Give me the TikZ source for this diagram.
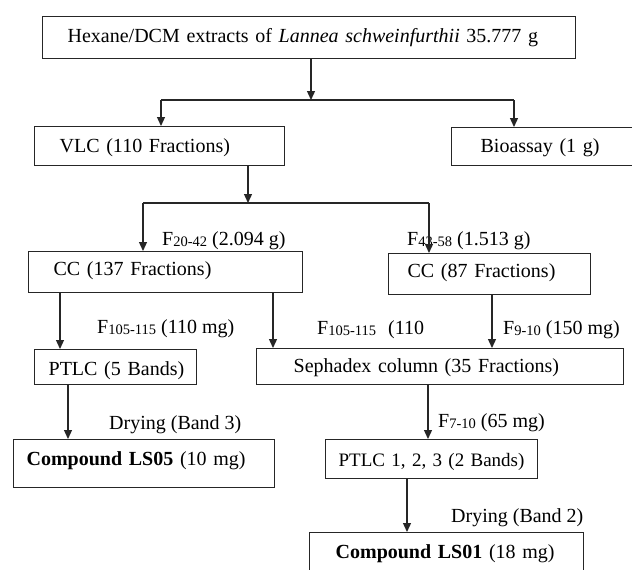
\documentclass[tikz,border=0pt]{standalone}
\usepackage{fontspec}
\setmainfont{Liberation Serif}
\usetikzlibrary{arrows.meta}
\newcommand\sbs[1]{\raisebox{-1pt}{\fontsize{14.5}{14.5}\selectfont #1}}
\begin{document}
\begin{tikzpicture}[x=1pt,y=-1pt,
  bx/.style={draw=black!85, line width=1.3pt, inner sep=0pt, align=left, anchor=north west, text depth=5pt, font=\fontsize{20}{24}\selectfont},
  lbl/.style={anchor=base west, inner sep=0pt, font=\fontsize{20}{24}\selectfont},
  ln/.style={draw=black!85, line width=1.3pt},
  arr/.style={-{Triangle[length=9pt,width=8pt]}}]
\clip (0,0) rectangle (632,570);
% boxes
\node[bx, minimum width=533pt, minimum height=42pt, text width=533pt, text height=15pt] (top) at (42,16)
  {\hspace*{25pt}Hexane/DCM extracts of \textit{Lannea schweinfurthii} 35.777 g};
\node[bx, minimum width=250pt, minimum height=39pt, text width=250pt, text height=18pt] (vlc) at (34,126)
  {\hspace*{25pt}VLC (110 Fractions)};
\node[bx, minimum width=200pt, minimum height=38pt, text width=200pt, text height=17pt] (bio) at (451,127)
  {\hspace*{29pt}Bioassay (1 g)};
\node[bx, minimum width=274pt, minimum height=41pt, text width=274pt, text height=12pt] (cc1) at (28,251)
  {\hspace*{25pt}CC (137 Fractions)};
\node[bx, minimum width=202pt, minimum height=41pt, text width=202pt, text height=12pt] (cc2) at (388,253)
  {\hspace*{19pt}CC (87 Fractions)};
\node[bx, minimum width=162pt, minimum height=35pt, text width=162pt, text height=22pt] (ptlc5) at (34,349)
  {\hspace*{14pt}PTLC (5 Bands)};
\node[bx, minimum width=367pt, minimum height=36pt, text width=367pt, text height=17pt] (seph) at (256,348)
  {\hspace*{37pt}Sephadex column (35 Fractions)};
\node[bx, minimum width=261pt, minimum height=48pt, text width=261pt, text height=9pt] (ls05) at (13,439)
  {\hspace*{13pt}\textbf{Compound LS05} (10 mg)};
\node[bx, minimum width=212pt, minimum height=39pt, text width=212pt, text height=20pt, font=\fontsize{19}{24}\selectfont] (ptlc3) at (325,439)
  {\hspace*{13pt}PTLC 1, 2, 3 (2 Bands)};
\node[bx, minimum width=274pt, minimum height=48pt, text width=274pt, text height=9pt] (ls01) at (309,532)
  {\hspace*{26pt}\textbf{Compound LS01} (18 mg)};
% labels
\node[lbl] (l1) at (162,245) {F\sbs{20-42} (2.094 g)};
\node[lbl] (l2) at (407,245) {F\sbs{43-58} (1.513 g)};
\node[lbl] (l3) at (97,333) {F\sbs{105-115} (110 mg)};
\node[lbl] (l4) at (317,334) {F\sbs{105-115}\hspace{12pt}(110};
\node[lbl] (l5) at (503,334) {F\sbs{9-10} (150 mg)};
\node[lbl] (l6) at (109,429) {Drying (Band 3)};
\node[lbl] (l7) at (438,427) {F\sbs{7-10} (65 mg)};
\node[lbl] (l8) at (451,522) {Drying (Band 2)};
% junction coordinates
\coordinate (j1) at (311,100); \coordinate (j1l) at (161,100); \coordinate (j1r) at (514,100);
\coordinate (j2) at (248,203); \coordinate (j2l) at (143,203); \coordinate (j2r) at (429,203);
\coordinate (a1) at (60,0); \coordinate (a2) at (273,0); \coordinate (a3) at (492,0);
\coordinate (a4) at (68,0); \coordinate (a5) at (428,0); \coordinate (a6) at (407,0);
% connectors
\draw[ln,arr] (top.south -| j1) -- (j1);
\draw[ln] (j1l) -- (j1r);
\draw[ln,arr] (j1l) -- (j1l |- vlc.north);
\draw[ln,arr] (j1r) -- (j1r |- bio.north);
\draw[ln,arr] (vlc.south -| j2) -- (j2);
\draw[ln] (j2l) -- (j2r);
\draw[ln,arr] (j2l) -- (j2l |- cc1.north);
\draw[ln,arr] (j2r) -- (j2r |- cc2.north);
\draw[ln,arr] (cc1.south -| a1) -- (a1 |- ptlc5.north);
\draw[ln,arr] (cc1.south -| a2) -- (a2 |- seph.north);
\draw[ln,arr] (cc2.south -| a3) -- (a3 |- seph.north);
\draw[ln,arr] (ptlc5.south -| a4) -- (a4 |- ls05.north);
\draw[ln,arr] (seph.south -| a5) -- (a5 |- ptlc3.north);
\draw[ln,arr] (ptlc3.south -| a6) -- (a6 |- ls01.north);
\end{tikzpicture}
\end{document}
